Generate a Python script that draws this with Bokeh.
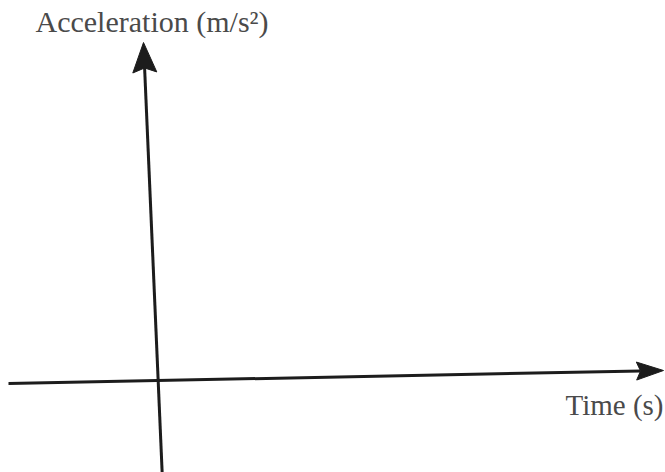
import numpy as np
from bokeh.plotting import figure
from bokeh.models import Range1d, Label
from bokeh.embed import file_html
from bokeh.resources import INLINE

# Diagram geometry (pixel units, y measured downward from top)
vertical_axis_x = [162, 143]      # bottom, tip
vertical_axis_y = [480, 42]
horizontal_axis_x = [8, 663]      # left, tip
horizontal_axis_y = [383, 370]
y_label = "Acceleration (m/s²)"
x_label = "Time (s)"

W, H = 665, 472
p = figure(width=W, height=H, output_backend="svg", toolbar_location=None,
           x_range=Range1d(0, W), y_range=Range1d(H, 0),
           min_border=0, outline_line_color=None)
p.axis.visible = False
p.grid.visible = False
p.background_fill_color = "white"
p.border_fill_color = "white"

COLOR = "#1c1c1c"

def arrow(xs, ys, head_len, head_half):
    x0, x1 = xs
    y0, y1 = ys
    d = np.array([x1 - x0, y1 - y0], dtype=float)
    d /= np.linalg.norm(d)
    n = np.array([-d[1], d[0]])
    tip = np.array([x1, y1], dtype=float)
    base = tip - d * head_len
    notch = tip - d * head_len * 0.85
    p.line([x0, notch[0]], [y0, notch[1]], line_width=3, line_color=COLOR)
    px = [tip[0], base[0] + n[0] * head_half, notch[0], base[0] - n[0] * head_half]
    py = [tip[1], base[1] + n[1] * head_half, notch[1], base[1] - n[1] * head_half]
    p.patch(px, py, fill_color=COLOR, line_color=COLOR, line_width=1)

arrow(vertical_axis_x, vertical_axis_y, 30, 12)
arrow(horizontal_axis_x, horizontal_axis_y, 27, 9)

p.add_layout(Label(x=35, y=21, text=y_label, text_font="Liberation Serif",
                   text_font_size="30px", text_color="#4a4a4a",
                   text_baseline="alphabetic", text_align="left"))
p.add_layout(Label(x=663, y=404, text=x_label, text_font="Liberation Serif",
                   text_font_size="29px", text_color="#4a4a4a",
                   text_baseline="alphabetic", text_align="right"))

open("out.html", "w").write(file_html(p, INLINE))
